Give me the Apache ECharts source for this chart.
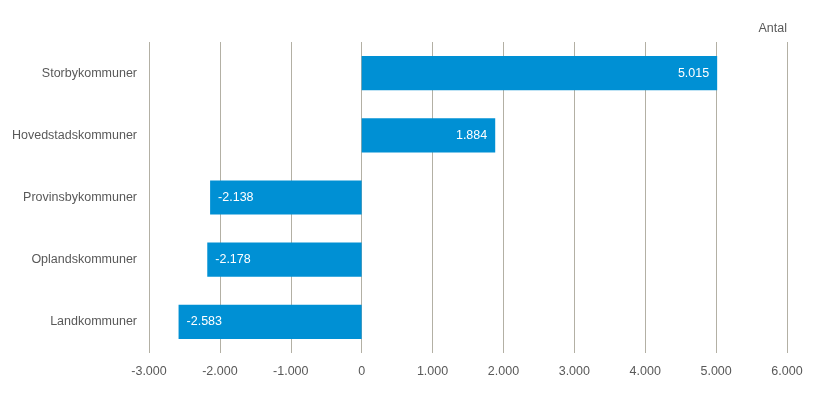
<!DOCTYPE html>
<html><head><meta charset="utf-8">
<script src="https://cdn.jsdelivr.net/npm/echarts@6/dist/echarts.min.js"></script>
<style>html,body{margin:0;padding:0;background:#fff}#c{width:825px;height:393px}</style>
</head><body><div id="c"></div>
<script>
const categories = ["Storbykommuner","Hovedstadskommuner","Provinsbykommuner","Oplandskommuner","Landkommuner"];
const values = [5015, 1884, -2138, -2178, -2583];
const unitLabel = "Antal";
const FONT = "'Liberation Sans Narrow','Arial Narrow','Liberation Sans',sans-serif";
const FS = 12.5;
const fmt = v => {
  const s = Math.abs(v).toString().replace(/\B(?=(\d{3})+(?!\d))/g, '.');
  return (v < 0 ? '-' : '') + s;
};
const chart = echarts.init(document.getElementById('c'));
chart.setOption({
  animation: false,
  title: { text: unitLabel, right: 38, top: 22, padding: 0, textStyle: { fontFamily: FONT, fontSize: FS, fontWeight: 'normal', color: '#595959' } },
  grid: { left: 149, right: 38, top: 42, bottom: 40, containLabel: false },
  xAxis: {
    type: 'value', min: -3000, max: 6000, interval: 1000,
    axisLine: { show: false }, axisTick: { show: false },
    splitLine: { show: true, lineStyle: { color: '#b3b0a4', width: 1 } },
    axisLabel: { formatter: fmt, fontFamily: FONT, fontSize: FS, color: '#595959', margin: 12 }
  },
  yAxis: {
    type: 'category', data: categories, inverse: true,
    axisLine: { show: false }, axisTick: { show: false },
    axisLabel: { fontFamily: FONT, fontSize: FS, color: '#595959', margin: 12 }
  },
  series: [{
    type: 'bar', barWidth: '55%',
    itemStyle: { color: '#0090d4' },
    data: values.map(v => ({
      value: v,
      label: { show: true, position: v >= 0 ? 'insideRight' : 'insideLeft', distance: 8,
        formatter: p => fmt(p.value), color: '#fff', fontFamily: FONT, fontSize: FS }
    }))
  }]
});
</script></body></html>
